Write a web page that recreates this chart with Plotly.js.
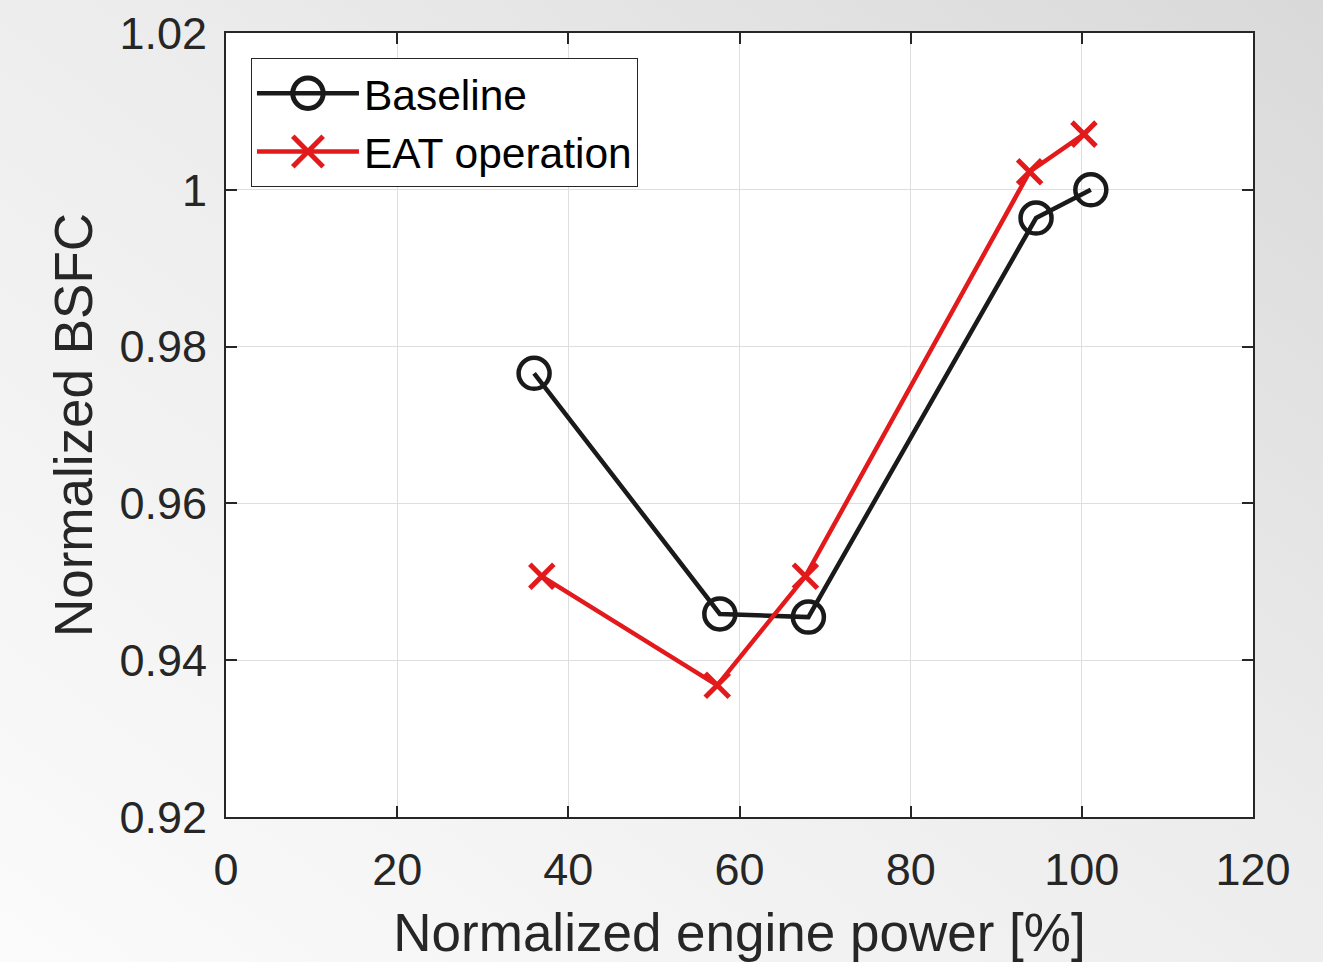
<!DOCTYPE html>
<html>
<head>
<meta charset="utf-8">
<script src="https://cdn.plot.ly/plotly-3.0.1.min.js"></script>
<style>
html, body { margin: 0; padding: 0; width: 1323px; height: 962px; overflow: hidden;
  background: linear-gradient(to top right, #fbfbfb 0%, #ececec 55%, #d9d9d9 100%); }
#chart { width: 1323px; height: 962px; }
</style>
</head>
<body>
<div id="chart"></div>
<script>
// Data
const seriesNames = ["Baseline", "EAT operation"];
const baselineX = [36.0, 57.7, 68.05, 94.65, 101.05];
const baselineY = [0.9766, 0.9459, 0.9455, 0.9964, 1.0000];
const eatX = [36.9, 57.4, 67.7, 93.9, 100.25];
const eatY = [0.9507, 0.9368, 0.9507, 1.0023, 1.0071];
const xTicks = [0, 20, 40, 60, 80, 100, 120];
const yTicks = [0.92, 0.94, 0.96, 0.98, 1.00, 1.02];
const yTickText = ["0.92", "0.94", "0.96", "0.98", "1", "1.02"];

const FONT = "Liberation Sans, Arial, Helvetica, sans-serif";
const AX = "#262626";

const traces = [
  {
    x: baselineX, y: baselineY, name: seriesNames[0],
    type: "scatter", mode: "lines+markers",
    line: { color: "#1a1a1a", width: 4.5 },
    marker: { symbol: "circle-open", size: 31, color: "#1a1a1a", line: { width: 4.5, color: "#1a1a1a" } }
  },
  {
    x: eatX, y: eatY, name: seriesNames[1],
    type: "scatter", mode: "lines+markers",
    line: { color: "#e31a1c", width: 4.5 },
    marker: { symbol: "x-thin-open", size: 24, color: "#e31a1c", line: { width: 5, color: "#e31a1c" } }
  }
];

const axisCommon = {
  showline: true, linecolor: AX, linewidth: 2, mirror: "ticks",
  ticks: "inside", ticklen: 11, tickwidth: 2, tickcolor: AX,
  showgrid: true, gridcolor: "#dedede", gridwidth: 1,
  zeroline: false,
  tickfont: { family: FONT, size: 45, color: "#262626" }
};

const layout = {
  width: 1323, height: 962,
  paper_bgcolor: "rgba(0,0,0,0)", plot_bgcolor: "#ffffff",
  margin: { l: 226, r: 70, t: 33, b: 145, pad: 0 },
  font: { family: FONT, color: "#262626" },
  xaxis: Object.assign({}, axisCommon, {
    range: [0, 120], tickvals: xTicks, ticktext: xTicks.map(String),
    ticklabelstandoff: 12,
    title: { text: "Normalized engine power [%]", font: { family: FONT, size: 53, color: "#262626" }, standoff: 22 }
  }),
  yaxis: Object.assign({}, axisCommon, {
    range: [0.92, 1.02], tickvals: yTicks, ticktext: yTickText,
    ticklabelstandoff: 8,
    title: { text: "Normalized BSFC", font: { family: FONT, size: 53, color: "#262626" }, standoff: 10 }
  }),
  showlegend: true,
  legend: {
    x: 0.0243, y: 0.968, xanchor: "left", yanchor: "top",
    bgcolor: "#ffffff", bordercolor: AX, borderwidth: 1,
    font: { family: FONT, size: 42.5, color: "#000000" },
    itemwidth: 102, tracegroupgap: 0
  }
};

Plotly.newPlot("chart", traces, layout, { displayModeBar: false, staticPlot: true }).then(function (gd) {
  // enlarge legend markers to match the plot markers
  gd.querySelectorAll(".legend .legendpoints path.scatterpts").forEach(function (p) {
    const t = p.getAttribute("transform") || "";
    p.setAttribute("transform", t + " scale(1.9)");
    p.style.strokeWidth = (5 / 1.9) + "px";
  });
});
</script>
</body>
</html>
